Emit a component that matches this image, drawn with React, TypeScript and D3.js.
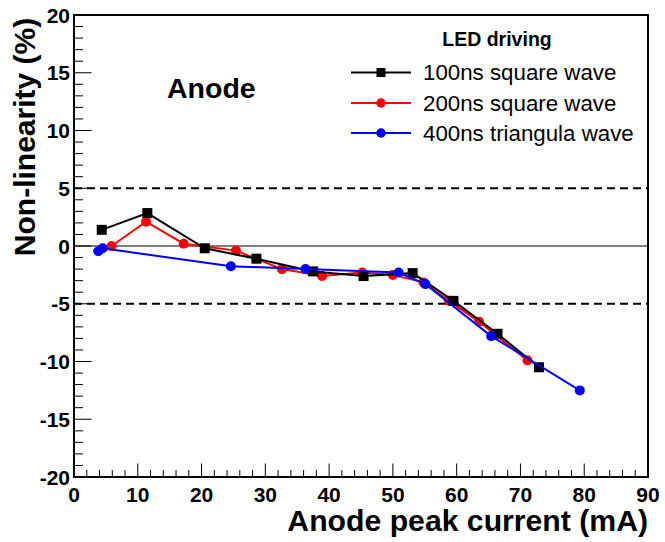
import React from "react";
import * as d3 from "d3";

// Measured non-linearity vs anode peak current for three LED drive modes
const sq100X = [4.35, 11.5, 20.5, 28.6, 37.5, 45.4, 53.1, 59.5, 66.4, 72.9];
const sq100Y = [1.4, 2.85, -0.2, -1.1, -2.2, -2.6, -2.35, -4.75, -7.6, -10.5];

const sq200X = [5.9, 11.3, 17.2, 25.4, 32.6, 38.9, 45.2, 50.0, 54.8, 58.8, 63.5, 71.1];
const sq200Y = [0.0, 2.1, 0.2, -0.4, -2.0, -2.6, -2.3, -2.5, -3.15, -4.75, -6.55, -9.9];

const tri400X = [3.8, 4.5, 24.6, 36.3, 50.9, 55.1, 65.4, 79.3];
const tri400Y = [-0.45, -0.2, -1.75, -2.0, -2.3, -3.3, -7.8, -12.5];

const xTicks = [0, 10, 20, 30, 40, 50, 60, 70, 80, 90];
const yTicks = [-20, -15, -10, -5, 0, 5, 10, 15, 20];
const legendLabels = ["100ns square wave", "200ns square wave", "400ns triangula wave"];

const W = 665;
const H = 542;
const left = 74;
const right = 648;
const top = 15;
const bottom = 477;
const font = "'Liberation Sans', Arial, Helvetica, sans-serif";

const x = d3.scaleLinear().domain([0, 90]).range([left, right]);
const y = d3.scaleLinear().domain([-20, 20]).range([bottom, top]);

type Pt = [number, number];
const zip = (xs: number[], ys: number[]): Pt[] => xs.map((v, i) => [v, ys[i]]);

const line = d3
  .line<Pt>()
  .x((d) => x(d[0]))
  .y((d) => y(d[1]));

const series = [
  { name: legendLabels[1], color: "#ff0000", marker: "circle", pts: zip(sq200X, sq200Y) },
  { name: legendLabels[0], color: "#000000", marker: "square", pts: zip(sq100X, sq100Y) },
  { name: legendLabels[2], color: "#0000ff", marker: "circle", pts: zip(tri400X, tri400Y) },
];

function Marker({ kind, cx, cy, color, size = 10 }: { kind: string; cx: number; cy: number; color: string; size?: number }) {
  if (kind === "square") {
    return <rect x={cx - size / 2} y={cy - size / 2} width={size} height={size} fill={color} />;
  }
  return <circle cx={cx} cy={cy} r={size / 2} fill={color} />;
}

export default function App() {
  const xMinor = d3.range(0, 90.001, 2);
  const yMinor = d3.range(-20, 20.001, 1);
  const legendRows = [
    { label: legendLabels[0], color: "#000000", marker: "square", yy: 72.5 },
    { label: legendLabels[1], color: "#ff0000", marker: "circle", yy: 103 },
    { label: legendLabels[2], color: "#0000ff", marker: "circle", yy: 133 },
  ];

  return (
    <svg
      width={W}
      height={H}
      viewBox={`0 0 ${W} ${H}`}
      style={{ position: "absolute", left: 0, top: 0, background: "#fff" }}
      fontFamily={font}
    >
      <rect x={0} y={0} width={W} height={H} fill="#fff" />

      {/* reference lines */}
      <line x1={left} x2={right} y1={y(0)} y2={y(0)} stroke="#000" strokeWidth={1} />
      {[5, -5].map((v) => (
        <line
          key={v}
          x1={left}
          x2={right}
          y1={y(v)}
          y2={y(v)}
          stroke="#000"
          strokeWidth={1.8}
          strokeDasharray="8 5"
        />
      ))}

      {/* ticks */}
      {xMinor.map((v) => {
        const major = v % 10 === 0;
        return (
          <line
            key={"xt" + v}
            x1={x(v)}
            x2={x(v)}
            y1={bottom}
            y2={bottom - (major ? 13.5 : 7)}
            stroke="#000"
            strokeWidth={1}
          />
        );
      })}
      {yMinor.map((v) => {
        const major = v % 5 === 0;
        return (
          <line
            key={"yt" + v}
            x1={left}
            x2={left + (major ? 17.5 : 9)}
            y1={y(v)}
            y2={y(v)}
            stroke="#000"
            strokeWidth={1}
          />
        );
      })}

      {/* frame */}
      <rect x={left} y={top} width={right - left} height={bottom - top} fill="none" stroke="#000" strokeWidth={2} />

      {/* tick labels */}
      {xTicks.map((v) => (
        <text key={"xl" + v} x={x(v)} y={502} textAnchor="middle" fontSize={21} fontWeight="bold">
          {v}
        </text>
      ))}
      {yTicks.map((v) => (
        <text key={"yl" + v} x={70} y={y(v) + 7.5} textAnchor="end" fontSize={21} fontWeight="bold">
          {v}
        </text>
      ))}

      {/* axis titles */}
      <text x={648} y={531} textAnchor="end" fontSize={30.2} fontWeight="bold">
        Anode peak current (mA)
      </text>
      <text
        transform={`translate(35, 137) rotate(-90)`}
        textAnchor="middle"
        fontSize={30}
        fontWeight="bold"
      >
        Non-linearity (%)
      </text>

      {/* series */}
      {series.map((s) => (
        <g key={s.name}>
          <path d={line(s.pts) || ""} fill="none" stroke={s.color} strokeWidth={2} />
          {s.pts.map((p, i) => (
            <Marker key={i} kind={s.marker} cx={x(p[0])} cy={y(p[1])} color={s.color} />
          ))}
        </g>
      ))}

      {/* annotation */}
      <text x={167} y={98} fontSize={28.5} fontWeight="bold">
        Anode
      </text>

      {/* legend */}
      <text x={497} y={46} textAnchor="middle" fontSize={19.5} fontWeight="bold">
        LED driving
      </text>
      {legendRows.map((r) => (
        <g key={r.label}>
          <line x1={351} x2={411} y1={r.yy} y2={r.yy} stroke={r.color} strokeWidth={1.8} />
          <Marker kind={r.marker} cx={381} cy={r.yy} color={r.color} size={r.marker === "square" ? 9 : 9.5} />
          <text x={423} y={r.yy + 7.5} fontSize={22.3}>
            {r.label}
          </text>
        </g>
      ))}
    </svg>
  );
}
